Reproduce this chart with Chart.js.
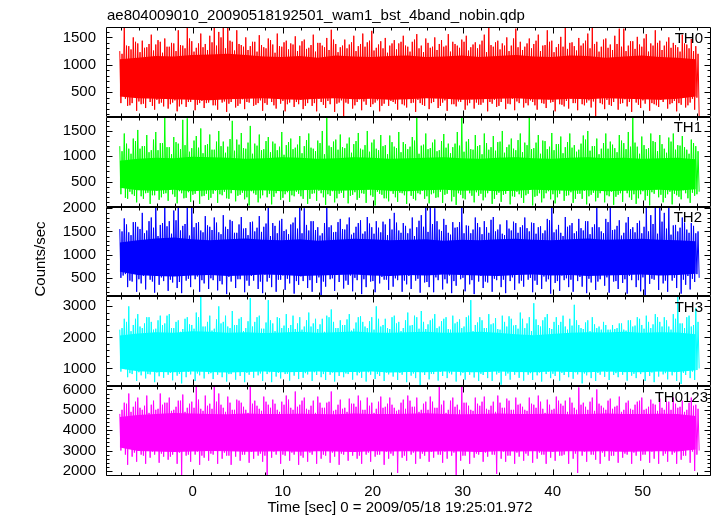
<!DOCTYPE html>
<html>
<head>
<meta charset="utf-8">
<script src="https://cdn.jsdelivr.net/npm/chart.js@4.4.1/dist/chart.umd.min.js"></script>
<style>
  html, body { margin: 0; padding: 0; background: #fff; }
  #plot { display: block; }
</style>
</head>
<body>
<canvas id="plot" width="717" height="516"></canvas>
<script>
// values, one entry per 0.5 s bin, first bin at t = -8.1 s
//   Hi / Lo   : highest peak and deepest dip in the bin
//   Hi2 / Lo2 : the second peak and dip in the same bin
const binStart = -8.1;
const binStep = 0.5;
// dense (solid looking) core of each band, read per 2 s
const coreStep = 2.0;

const chartTitle = 'ae804009010_20090518192501_wam1_bst_4band_nobin.qdp';
const xTitle = 'Time [sec] 0 = 2009/05/18 19:25:01.972';
const yTitle = 'Counts/sec';
const bandNames = ['TH0', 'TH1', 'TH2', 'TH3', 'TH0123'];
const bandColors = ['#ff0000', '#00ff00', '#0000ff', '#00ffff', '#ff00ff'];
const yMins = [50, 6, 100, 430, 1750];
const yMaxs = [1690, 1780, 2035, 3320, 6160];
const yMajor = [500, 500, 500, 1000, 1000];
const yMinor = [100, 100, 100, 200, 200];
const xMin = -9.63, xMax = 57.59;

const th0Hi = [
  1250, 1690, 1340, 1500, 1390, 1440, 1320, 1550, 1370, 1420, 1480, 1330, 1390, 1630, 1350, 1690, 1430, 1310, 1570, 1380,
  1530, 1690, 1600, 1690, 1690, 1420, 1630, 1360, 1500, 1340, 1420, 1540, 1320, 1480, 1370, 1570, 1330, 1440, 1390, 1520,
  1350, 1460, 1310, 1550, 1400, 1350, 1490, 1640, 1380, 1320, 1460, 1370, 1530, 1340, 1570, 1410, 1620, 1310, 1430, 1490,
  1350, 1450, 1390, 1530, 1330, 1420, 1560, 1350, 1480, 1310, 1500, 1380, 1330, 1560, 1420, 1350, 1460, 1530, 1320, 1410,
  1370, 1550, 1690, 1330, 1440, 1390, 1500, 1350, 1660, 1420, 1330, 1480, 1380, 1550, 1350, 1630, 1440, 1320, 1510, 1690,
  1400, 1340, 1490, 1390, 1570, 1690, 1420, 1330, 1480, 1370, 1530, 1660, 1660, 1350, 1430, 1510, 1330, 1560, 1390, 1630,
  1440, 1350, 1500, 1400, 1320, 1550, 1370, 1470, 1340
];
const th0Lo = [
  480, 250, 300, 160, 280, 210, 320, 180, 290, 240, 200, 310, 150, 280, 230, 320, 170, 300, 210, 310,
  260, 180, 310, 140, 320, 220, 290, 190, 310, 250, 300, 160, 270, 320, 200, 290, 150, 310, 230, 280,
  190, 300, 250, 150, 320, 210, 280, 140, 310, 60, 290, 200, 320, 170, 270, 230, 310, 150, 290, 250,
  320, 180, 280, 220, 300, 140, 300, 250, 190, 320, 210, 310, 160, 280, 240, 320, 180, 300, 200, 270,
  310, 150, 290, 230, 320, 190, 280, 170, 300, 220, 260, 320, 180, 300, 210, 310, 150, 280, 240, 200,
  300, 170, 280, 310, 220, 60, 300, 190, 270, 320, 180, 300, 240, 140, 310, 210, 290, 160, 280, 230,
  320, 200, 300, 150, 270, 220, 310, 180, 60
];
const th0Hi2 = [
  1200, 1350, 1280, 1420, 1230, 1310, 1380, 1260, 1450, 1220, 1330, 1400, 1250, 1360, 1300, 1480, 1240, 1390, 1320, 1270,
  1410, 1350, 1500, 1300, 1440, 1260, 1380, 1330, 1270, 1420, 1240, 1360, 1300, 1450, 1220, 1340, 1410, 1280, 1370, 1250,
  1430, 1290, 1360, 1240, 1400, 1320, 1270, 1460, 1230, 1350, 1300, 1410, 1250, 1380, 1330, 1440, 1260, 1370, 1300, 1220,
  1390, 1280, 1420, 1350, 1240, 1460, 1300, 1230, 1400, 1330, 1270, 1450, 1350, 1240, 1380, 1310, 1420, 1260, 1370, 1300,
  1440, 1230, 1360, 1410, 1280, 1350, 1250, 1480, 1320, 1270, 1390, 1300, 1440, 1250, 1360, 1420, 1230, 1380, 1330, 1290,
  1410, 1260, 1350, 1440, 1300, 1380, 1240, 1460, 1310, 1270, 1380, 1330, 1250, 1430, 1290, 1370, 1480, 1240, 1350, 1400,
  1270, 1420, 1310, 1360, 1240, 1390, 1300, 1250, 1200
];
const th0Lo2 = [
  300, 380, 260, 420, 330, 290, 400, 250, 360, 310, 420, 280, 350, 240, 390, 320, 430, 270, 340, 300,
  380, 260, 410, 330, 290, 440, 250, 370, 320, 400, 270, 350, 300, 430, 260, 390, 340, 280, 410, 320,
  360, 250, 420, 300, 380, 270, 340, 440, 290, 350, 310, 400, 260, 370, 330, 430, 280, 350, 250, 390,
  340, 290, 420, 260, 380, 310, 360, 270, 430, 300, 390, 250, 350, 410, 280, 330, 440, 260, 370, 310,
  270, 400, 320, 360, 250, 420, 290, 380, 330, 440, 300, 350, 260, 410, 290, 370, 320, 430, 270, 340,
  380, 300, 420, 260, 350, 330, 400, 280, 360, 250, 410, 290, 370, 320, 440, 270, 350, 390, 300, 260,
  360, 410, 280, 340, 300, 420, 260, 380, 400
];
const th0CoreHi = [1100, 1130, 1160, 1150, 1180, 1190, 1200, 1180, 1150, 1140, 1160, 1130, 1170, 1150, 1140, 1160, 1170, 1140, 1150, 1170, 1140, 1160, 1180, 1150, 1140, 1170, 1160, 1130, 1150, 1170, 1140, 1130, 1100];
const th0CoreLo = [420, 390, 380, 370, 360, 350, 370, 380, 390, 370, 360, 380, 390, 370, 380, 360, 370, 390, 380, 360, 370, 380, 390, 370, 360, 380, 370, 390, 380, 370, 360, 380, 420];

const th1Hi = [
  1200, 1450, 1150, 1350, 1520, 1200, 1420, 1120, 1480, 1260, 1780, 1180, 1380, 1250, 1720, 1750, 1160, 1400, 1550, 1220,
  1430, 1130, 1500, 1290, 1190, 1700, 1330, 1460, 1150, 1600, 1250, 1430, 1140, 1380, 1290, 1120, 1480, 1220, 1350, 1170,
  1400, 1200, 1450, 1150, 1310, 1500, 1780, 1180, 1330, 1430, 1160, 1370, 1240, 1460, 1130, 1500, 1270, 1150, 1420, 1220,
  1410, 1190, 1480, 1280, 1140, 1380, 1780, 1210, 1450, 1160, 1330, 1120, 1440, 1250, 1180, 1480, 1780, 1290, 1140, 1420,
  1220, 1450, 1130, 1400, 1280, 1500, 1180, 1350, 1120, 1450, 1270, 1780, 1160, 1420, 1310, 1140, 1460, 1240, 1390, 1180,
  1450, 1220, 1130, 1410, 1500, 1200, 1350, 1150, 1450, 1290, 1160, 1420, 1260, 1480, 1780, 1190, 1390, 1140, 1450, 1280,
  1420, 1150, 1370, 1450, 1220, 1400, 1130, 1330, 1200
];
const th1Lo = [
  400, 160, 250, 90, 210, 270, 60, 230, 140, 260, 120, 250, 70, 270, 180, 100, 260, 60, 220, 140,
  260, 80, 230, 170, 270, 110, 240, 150, 30, 270, 90, 230, 190, 50, 270, 140, 250, 100, 210, 260,
  160, 60, 260, 120, 270, 40, 220, 90, 260, 180, 70, 240, 140, 270, 80, 230, 30, 260, 170, 110,
  260, 100, 270, 60, 220, 130, 250, 160, 70, 270, 190, 80, 260, 110, 40, 240, 150, 270, 90, 220,
  130, 270, 60, 240, 100, 260, 50, 200, 250, 80, 260, 30, 220, 90, 270, 150, 70, 260, 120, 230,
  80, 260, 160, 50, 240, 110, 270, 90, 210, 40, 240, 100, 270, 140, 60, 250, 130, 30, 260, 190,
  90, 250, 50, 230, 150, 270, 80, 220, 300
];
const th1Hi2 = [
  1100, 1250, 1050, 1300, 1150, 1200, 1080, 1330, 1120, 1260, 1180, 1040, 1280, 1140, 1220, 1090, 1310, 1170, 1060, 1240,
  1130, 1290, 1200, 1070, 1340, 1110, 1230, 1160, 1270, 1050, 1210, 1120, 1300, 1080, 1250, 1190, 1030, 1280, 1140, 1230,
  1060, 1320, 1170, 1100, 1260, 1040, 1210, 1290, 1130, 1180, 1250, 1070, 1300, 1150, 1220, 1090, 1330, 1120, 1200, 1040,
  1280, 1160, 1080, 1240, 1190, 1310, 1050, 1230, 1140, 1270, 1100, 1300, 1170, 1060, 1250, 1210, 1090, 1340, 1130, 1200,
  1040, 1260, 1180, 1110, 1290, 1070, 1230, 1150, 1320, 1080, 1220, 1140, 1270, 1050, 1300, 1190, 1120, 1240, 1060, 1280,
  1170, 1090, 1250, 1330, 1110, 1200, 1040, 1260, 1150, 1230, 1080, 1310, 1140, 1190, 1270, 1050, 1220, 1160, 1300, 1100,
  1240, 1070, 1290, 1130, 1210, 1180, 1050, 1260, 1100
];
const th1Lo2 = [
  250, 180, 300, 220, 340, 160, 280, 230, 320, 190, 270, 350, 200, 310, 170, 290, 240, 330, 210, 260,
  180, 320, 250, 300, 160, 340, 220, 280, 190, 310, 240, 170, 330, 260, 200, 350, 180, 290, 230, 300,
  210, 340, 160, 270, 320, 190, 250, 310, 170, 280, 330, 220, 290, 180, 260, 350, 200, 300, 240, 170,
  310, 190, 280, 230, 340, 160, 270, 320, 210, 250, 180, 300, 240, 350, 200, 270, 170, 330, 220, 290,
  260, 190, 320, 160, 280, 240, 340, 210, 300, 180, 230, 350, 200, 270, 170, 310, 250, 190, 330, 220,
  290, 160, 260, 320, 210, 280, 180, 340, 230, 300, 200, 270, 330, 190, 250, 170, 310, 220, 290, 350,
  240, 180, 300, 260, 200, 330, 170, 280, 250
];
const th1CoreHi = [910, 950, 970, 960, 990, 980, 970, 950, 960, 980, 970, 950, 960, 980, 970, 950, 960, 970, 980, 960, 950, 970, 980, 960, 950, 970, 980, 960, 970, 950, 960, 970, 940];
const th1CoreLo = [380, 330, 320, 340, 310, 330, 340, 320, 330, 310, 330, 340, 320, 330, 340, 320, 310, 330, 340, 320, 330, 310, 320, 340, 330, 320, 330, 310, 320, 330, 340, 320, 350];

const th2Hi = [
  1550, 1780, 1480, 1700, 1600, 1900, 1520, 1800, 2035, 1640, 2035, 1720, 1950, 2035, 1620, 2035, 2035, 1680, 1520, 1830,
  1600, 1800, 1480, 1850, 1550, 1720, 1470, 1810, 1570, 1700, 1500, 1830, 1600, 2035, 1680, 1460, 1770, 1540, 1650, 1800,
  2035, 2000, 1520, 1720, 1590, 1460, 2035, 1630, 1490, 1770, 1540, 1800, 1470, 1680, 1450, 1810, 1590, 1720, 1480, 1650,
  1770, 1900, 1520, 1680, 1460, 1800, 1590, 1850, 2035, 2035, 2000, 1540, 1770, 1470, 1700, 1590, 2035, 1630, 1460, 1800,
  1590, 1720, 1470, 1810, 1540, 1450, 1740, 1520, 1680, 1590, 1800, 1500, 1680, 1590, 1460, 1770, 2035, 1540, 1470, 1810,
  1630, 1460, 1770, 1520, 1720, 1590, 2035, 1500, 1770, 2035, 1540, 1740, 1470, 1810, 1590, 1680, 1460, 2035, 1850, 2035,
  2035, 1900, 2035, 1630, 1500, 1800, 1540, 1680, 1460
];
const th2Lo = [
  550, 300, 420, 200, 380, 250, 460, 180, 350, 430, 220, 400, 280, 170, 440, 300, 470, 200, 380, 260,
  450, 230, 360, 150, 420, 280, 470, 190, 330, 440, 260, 170, 420, 300, 200, 460, 240, 380, 160, 350,
  430, 280, 200, 390, 130, 310, 470, 220, 410, 270, 350, 210, 450, 150, 300, 420, 190, 380, 460, 240,
  310, 450, 200, 360, 260, 440, 180, 400, 300, 190, 450, 250, 380, 170, 330, 470, 210, 360, 150, 420,
  280, 400, 200, 450, 300, 170, 430, 240, 380, 310, 460, 190, 350, 260, 420, 160, 390, 220, 450, 300,
  200, 430, 310, 170, 400, 240, 470, 330, 180, 420, 260, 390, 160, 450, 300, 210, 130, 370, 460, 240,
  380, 200, 440, 280, 160, 350, 250, 410, 500
];
const th2Hi2 = [
  1500, 1650, 1420, 1700, 1550, 1460, 1720, 1580, 1400, 1680, 1610, 1450, 1740, 1520, 1660, 1410, 1590, 1700, 1480, 1630,
  1530, 1690, 1440, 1600, 1750, 1470, 1650, 1560, 1420, 1710, 1580, 1490, 1670, 1400, 1620, 1730, 1510, 1440, 1690, 1560,
  1460, 1640, 1720, 1530, 1410, 1680, 1590, 1480, 1700, 1550, 1650, 1430, 1600, 1740, 1500, 1670, 1450, 1580, 1710, 1420,
  1540, 1690, 1470, 1620, 1560, 1400, 1730, 1600, 1490, 1660, 1720, 1510, 1640, 1430, 1580, 1700, 1460, 1620, 1540, 1680,
  1440, 1590, 1750, 1500, 1650, 1420, 1560, 1710, 1470, 1630, 1570, 1690, 1450, 1610, 1520, 1740, 1480, 1640, 1400, 1600,
  1680, 1500, 1570, 1720, 1440, 1650, 1590, 1460, 1700, 1530, 1620, 1410, 1690, 1550, 1480, 1730, 1600, 1500, 1660, 1450,
  1710, 1560, 1430, 1640, 1580, 1690, 1470, 1620, 1500
];
const th2Lo2 = [
  500, 580, 440, 620, 470, 540, 600, 420, 560, 510, 630, 460, 550, 410, 590, 480, 640, 530, 450, 570,
  490, 610, 430, 560, 520, 650, 470, 590, 440, 540, 600, 420, 570, 500, 630, 460, 550, 480, 610, 430,
  530, 590, 450, 640, 510, 420, 580, 490, 560, 620, 440, 550, 500, 610, 470, 580, 430, 640, 520, 460,
  570, 490, 620, 440, 540, 600, 480, 560, 410, 590, 510, 630, 470, 550, 430, 600, 500, 570, 450, 620,
  540, 420, 590, 480, 650, 460, 560, 510, 600, 440, 620, 500, 440, 580, 530, 470, 610, 430, 550, 490,
  460, 590, 520, 640, 480, 560, 420, 600, 510, 570, 430, 620, 470, 540, 590, 450, 510, 640, 480, 560,
  600, 440, 570, 500, 620, 460, 540, 480, 580
];
const th2CoreHi = [1260, 1310, 1350, 1370, 1330, 1310, 1330, 1350, 1320, 1310, 1330, 1300, 1320, 1340, 1330, 1310, 1320, 1330, 1300, 1320, 1310, 1330, 1340, 1320, 1310, 1330, 1350, 1320, 1330, 1340, 1320, 1310, 1290];
const th2CoreLo = [630, 560, 540, 530, 550, 560, 540, 550, 570, 560, 540, 550, 560, 570, 550, 540, 560, 550, 570, 560, 550, 540, 560, 570, 550, 560, 540, 550, 560, 570, 550, 560, 590];

const th3Hi = [
  2250, 2600, 3000, 2400, 2750, 2300, 2650, 2500, 2280, 2700, 2450, 2750, 2300, 2550, 2270, 2650, 2400, 2800, 3320, 2350,
  2700, 2280, 3000, 2500, 2350, 2850, 2400, 2650, 2300, 3270, 2500, 2700, 2280, 3200, 2450, 2650, 2300, 2750, 2400, 2270,
  2650, 2350, 2800, 2450, 2270, 2600, 2700, 2900, 2300, 2550, 2400, 2750, 2280, 2650, 2500, 2300, 2650, 3000, 2350, 2600,
  2270, 2700, 2500, 2300, 2800, 2400, 2650, 2850, 2270, 2550, 2750, 2350, 2600, 2270, 2700, 2500, 2300, 2650, 3200, 2400,
  2650, 2300, 2750, 2450, 2270, 2700, 2350, 2600, 2400, 2800, 2300, 2650, 3100, 2400, 2550, 2750, 2270, 2650, 2500, 2350,
  2600, 3050, 2400, 2270, 2550, 2650, 2300, 2250, 2400, 2250, 2270, 2450, 2250, 2550, 2350, 2650, 2400, 2700, 2300, 2750,
  2500, 2650, 2350, 2750, 3320, 2450, 2650, 2350, 2950
];
const th3Lo = [
  1250, 720, 820, 600, 780, 680, 810, 560, 750, 700, 800, 620, 770, 520, 720, 810, 600, 780, 680, 820,
  660, 800, 720, 580, 820, 640, 760, 560, 800, 700, 780, 600, 820, 560, 740, 680, 820, 610, 770, 660,
  700, 810, 600, 790, 720, 630, 800, 580, 760, 720, 820, 640, 780, 700, 580, 800, 660, 760, 600, 810,
  740, 630, 800, 560, 770, 690, 460, 790, 650, 820, 610, 760, 690, 810, 580, 780, 640, 800, 710, 600,
  790, 690, 600, 810, 480, 770, 640, 800, 700, 610, 800, 630, 780, 580, 820, 690, 760, 610, 790, 720,
  670, 810, 520, 780, 690, 600, 800, 730, 630, 790, 720, 800, 610, 770, 690, 820, 600, 760, 560, 740,
  810, 650, 780, 600, 500, 790, 690, 630, 1000
];
const th3Hi2 = [
  2300, 2500, 2200, 2600, 2350, 2450, 2650, 2250, 2550, 2400, 2700, 2300, 2500, 2180, 2600, 2420, 2280, 2650, 2350, 2500,
  2220, 2580, 2450, 2700, 2300, 2400, 2600, 2200, 2520, 2350, 2650, 2280, 2480, 2550, 2200, 2620, 2380, 2300, 2700, 2450,
  2250, 2550, 2350, 2600, 2420, 2180, 2650, 2500, 2300, 2400, 2580, 2220, 2480, 2680, 2350, 2520, 2250, 2600, 2400, 2300,
  2650, 2450, 2200, 2550, 2380, 2700, 2280, 2500, 2420, 2600, 2300, 2520, 2650, 2250, 2450, 2580, 2350, 2700, 2200, 2480,
  2550, 2300, 2420, 2620, 2250, 2500, 2680, 2380, 2280, 2600, 2450, 2200, 2580, 2350, 2650, 2300, 2500, 2400, 2700, 2250,
  2380, 2550, 2300, 2480, 2200, 2420, 2350, 2500, 2250, 2400, 2300, 2450, 2220, 2550, 2380, 2600, 2280, 2500, 2420, 2650,
  2350, 2550, 2250, 2600, 2450, 2300, 2700, 2400, 2500
];
const th3Lo2 = [
  900, 980, 850, 1020, 880, 950, 820, 1000, 870, 940, 1040, 860, 970, 830, 1010, 890, 950, 840, 990, 910,
  850, 1030, 880, 960, 820, 1000, 900, 940, 860, 1050, 920, 840, 990, 880, 1020, 860, 950, 830, 1000, 900,
  970, 850, 1040, 880, 930, 820, 1010, 870, 960, 900, 840, 990, 910, 860, 1030, 880, 950, 820, 1000, 870,
  940, 1020, 860, 980, 900, 840, 1050, 880, 950, 830, 1010, 890, 960, 850, 1000, 920, 860, 1040, 880, 940,
  830, 990, 900, 1020, 860, 950, 840, 1010, 880, 970, 920, 850, 1000, 870, 1040, 900, 830, 980, 860, 950,
  1020, 880, 940, 840, 990, 910, 860, 1030, 890, 950, 850, 1000, 880, 960, 830, 1020, 900, 940, 870, 990,
  910, 850, 1000, 880, 940, 860, 1020, 900, 950
];
const th3CoreHi = [2060, 2130, 2170, 2150, 2200, 2180, 2150, 2170, 2140, 2160, 2180, 2150, 2170, 2190, 2160, 2150, 2170, 2180, 2150, 2160, 2180, 2150, 2100, 2070, 2110, 2150, 2170, 2160, 2180, 2150, 2170, 2160, 2100];
const th3CoreLo = [1000, 910, 890, 880, 900, 890, 870, 890, 900, 880, 890, 900, 880, 890, 900, 870, 890, 880, 900, 890, 880, 900, 890, 880, 900, 890, 880, 900, 890, 880, 900, 890, 940];

const th0123Hi = [
  4800, 5350, 5800, 5150, 5600, 5000, 5700, 5250, 5000, 5800, 5350, 5600, 5000, 5450, 5750, 5100, 5400, 6160, 5050, 5700,
  5300, 6160, 5800, 5100, 5650, 5000, 5500, 5350, 5000, 6160, 5450, 5050, 5650, 5250, 5500, 5000, 5400, 5700, 5100, 5900,
  5250, 5600, 5000, 5450, 5650, 5100, 5350, 5900, 5000, 5500, 5100, 5550, 5300, 5700, 5000, 5600, 5350, 5050, 5650, 5150,
  5600, 5100, 5000, 5500, 5700, 5150, 5600, 5000, 5400, 5650, 5100, 6160, 5450, 5000, 5600, 5250, 6160, 5350, 5000, 5600,
  5200, 5650, 5000, 5400, 5700, 5100, 5550, 5000, 5600, 5300, 5000, 5600, 5250, 5700, 5050, 5500, 5000, 5650, 5300, 5450,
  5600, 5100, 6100, 5350, 5000, 5600, 6000, 5200, 5000, 5550, 5150, 5650, 5000, 5450, 5000, 5400, 5600, 5050, 5500, 5250,
  5550, 5000, 5400, 5600, 5100, 5450, 5000, 5600, 5250
];
const th0123Lo = [
  3300, 2300, 2700, 2450, 2800, 2350, 2650, 2800, 2400, 2700, 2550, 2800, 2350, 1800, 2750, 2450, 2800, 2300, 2650, 2500,
  2800, 2350, 2600, 2750, 2300, 2700, 2500, 2800, 2400, 2600, 2750, 2450, 1800, 2650, 2800, 2350, 2750, 2500, 2800, 2300,
  2650, 2450, 2800, 2350, 2600, 2750, 2400, 2700, 2300, 2800, 2500, 2750, 2600, 2350, 2800, 2450, 2700, 2800, 2300, 2600,
  2750, 1900, 2650, 2500, 2800, 2350, 2600, 2750, 2450, 2650, 2800, 2400, 2600, 2750, 1800, 2500, 2750, 2350, 2650, 2800,
  2450, 2700, 2800, 1850, 2600, 2450, 2750, 2350, 2700, 2500, 2750, 2400, 2600, 2800, 2350, 2650, 2500, 2750, 2800, 2350,
  2600, 1900, 2750, 2450, 2800, 2550, 2350, 2700, 2500, 2750, 2400, 2650, 2800, 2350, 2750, 2500, 2800, 2400, 2600, 2350,
  2750, 2450, 2800, 2350, 2550, 2750, 2400, 2000, 3000
];
const th0123Hi2 = [
  5000, 5300, 4900, 5400, 5100, 5200, 4850, 5450, 5050, 5250, 5350, 4950, 5150, 5450, 4900, 5300, 5100, 5500, 4950, 5200,
  5050, 5400, 5250, 4900, 5350, 5000, 5450, 5150, 4850, 5300, 5200, 4950, 5400, 5100, 5300, 4900, 5250, 5500, 5000, 5150,
  5450, 5050, 5200, 4850, 5350, 5100, 5400, 4950, 5250, 5050, 4900, 5300, 5150, 5450, 5000, 5200, 4850, 5400, 5100, 5300,
  5250, 4950, 5350, 5050, 5450, 5150, 4900, 5300, 5000, 5400, 5100, 5250, 4850, 5450, 5150, 5000, 5350, 5200, 4950, 5300,
  5400, 5050, 5200, 4900, 5350, 5100, 5450, 5000, 5250, 5150, 4950, 5300, 5100, 5400, 4850, 5250, 5050, 5450, 5200, 4900,
  5350, 5000, 5250, 5150, 5400, 4950, 5300, 5100, 5450, 5050, 5200, 4900, 5350, 5050, 5250, 5450, 5000, 5150, 5300, 4950,
  5100, 5400, 5000, 5300, 5150, 4900, 5350, 5200, 5050
];
const th0123Lo2 = [
  3000, 2800, 3200, 2900, 3100, 2750, 3250, 2950, 3050, 2850, 3150, 2700, 3000, 2900, 3300, 2800, 3100, 2950, 2750, 3200,
  2850, 3050, 3250, 2900, 2750, 3150, 3000, 2800, 3300, 2950, 3100, 2850, 2750, 3200, 2950, 3050, 2800, 3250, 2900, 3000,
  2750, 3150, 2900, 3050, 3300, 2800, 3000, 2900, 3200, 2850, 3050, 2950, 3250, 2750, 3100, 2900, 3000, 2800, 3150, 2950,
  2850, 3200, 3000, 2750, 3100, 2900, 3300, 2850, 3050, 2950, 3150, 2800, 2950, 3200, 2900, 3050, 2750, 3100, 3000, 2850,
  3250, 2900, 3050, 2800, 3150, 2950, 2750, 3200, 2900, 3100, 2850, 3000, 3250, 2900, 2800, 3150, 2950, 3050, 2750, 3200,
  3000, 2850, 3100, 2950, 3300, 2800, 3050, 2900, 3150, 2750, 2950, 3200, 2850, 3100, 2900, 3050, 2800, 3250, 2950, 3000,
  3100, 2850, 3200, 2900, 3000, 2750, 3150, 2950, 2800
];
const th0123CoreHi = [4650, 4750, 4800, 4850, 4820, 4800, 4780, 4820, 4800, 4790, 4810, 4800, 4780, 4820, 4800, 4790, 4810, 4830, 4800, 4780, 4800, 4820, 4790, 4800, 4810, 4780, 4800, 4820, 4790, 4800, 4810, 4790, 4700];
const th0123CoreLo = [3150, 2980, 2950, 2930, 2950, 2980, 2960, 2940, 2950, 2970, 2940, 2960, 2950, 2930, 2960, 2950, 2970, 2940, 2960, 2950, 2930, 2960, 2950, 2970, 2940, 2960, 2950, 2970, 2940, 2950, 2960, 2950, 3050];

const hiSeries = [th0Hi, th1Hi, th2Hi, th3Hi, th0123Hi];
const loSeries = [th0Lo, th1Lo, th2Lo, th3Lo, th0123Lo];
const hi2Series = [th0Hi2, th1Hi2, th2Hi2, th3Hi2, th0123Hi2];
const lo2Series = [th0Lo2, th1Lo2, th2Lo2, th3Lo2, th0123Lo2];
const coreHiSeries = [th0CoreHi, th1CoreHi, th2CoreHi, th3CoreHi, th0123CoreHi];
const coreLoSeries = [th0CoreLo, th1CoreLo, th2CoreLo, th3CoreLo, th0123CoreLo];

const labelRight = [703, 702, 702, 703, 708];
const font = '"Liberation Sans", Arial, Helvetica, sans-serif';

let datasets = [];
let scales = {
  x: {
    type: 'linear', position: 'bottom', min: xMin, max: xMax,
    grid: { display: false, drawTicks: false }, border: { display: false },
    ticks: { stepSize: 10, includeBounds: false, autoSkip: false, maxRotation: 0,
             color: '#000', padding: 7, font: { family: font, size: 15 },
             callback: (v) => String(v) },
    afterFit: (s) => { s.height = 40; }
  }
};

bandNames.forEach((name, b) => {
  const id = 'y' + b;
  scales[id] = {
    type: 'linear', position: 'left', stack: 'bands', stackWeight: 1, weight: 5 - b,
    min: yMins[b], max: yMaxs[b],
    grid: { display: false, drawTicks: false }, border: { display: false },
    ticks: { autoSkip: false, color: '#000', padding: 10, font: { family: font, size: 15 },
             callback: (v) => String(v) },
    afterBuildTicks: (s) => {
      let t = [];
      for (let v = Math.ceil(yMins[b] / yMajor[b]) * yMajor[b]; v <= yMaxs[b]; v += yMajor[b]) t.push({ value: v });
      s.ticks = t;
    },
    afterFit: (s) => { s.width = 106; }
  };

  // zigzag through each bin: peak, second dip, second peak, dip
  let pts = [];
  hiSeries[b].forEach((v, i) => {
    const t = binStart + i * binStep;
    pts.push({ x: t, y: v });
    pts.push({ x: t + binStep * 0.25, y: lo2Series[b][i] });
    pts.push({ x: t + binStep * 0.5, y: hi2Series[b][i] });
    pts.push({ x: t + binStep * 0.75, y: loSeries[b][i] });
  });
  const coreT = coreHiSeries[b].map((v, i) => binStart + i * coreStep);

  datasets.push({
    label: name + ' core', yAxisID: id,
    data: coreHiSeries[b].map((v, i) => ({ x: coreT[i], y: v })),
    borderWidth: 0, pointRadius: 0, fill: '+1', backgroundColor: bandColors[b]
  });
  datasets.push({
    label: name + ' core low', yAxisID: id,
    data: coreLoSeries[b].map((v, i) => ({ x: coreT[i], y: v })),
    borderWidth: 0, pointRadius: 0, fill: false
  });
  datasets.push({
    label: name, yAxisID: id, data: pts,
    borderColor: bandColors[b], borderWidth: 1, borderJoinStyle: 'bevel',
    pointRadius: 0, fill: false, tension: 0
  });
});

const framePlugin = {
  id: 'qdpFrame',
  afterDatasetsDraw(chart) {
    const ctx = chart.ctx;
    const xs = chart.scales.x;
    ctx.save();
    ctx.strokeStyle = '#000';
    ctx.lineWidth = 1;
    ctx.beginPath();
    bandNames.forEach((name, b) => {
      const ys = chart.scales['y' + b];
      const L = Math.round(xs.left) + 0.5, R = Math.round(xs.right) - 0.5;
      const T = Math.round(ys.top) + 0.5, B = Math.round(ys.bottom) - 0.5;
      ctx.rect(L, T, R - L, B - T);
      for (let v = Math.ceil(yMins[b] / yMinor[b]) * yMinor[b]; v <= yMaxs[b]; v += yMinor[b]) {
        const y = Math.round(ys.getPixelForValue(v)) + 0.5;
        const len = v % yMajor[b] === 0 ? 6 : 3;
        ctx.moveTo(L, y); ctx.lineTo(L + len, y);
        ctx.moveTo(R, y); ctx.lineTo(R - len, y);
      }
      for (let t = Math.ceil(xMin / 2) * 2; t <= xMax; t += 2) {
        const x = Math.round(xs.getPixelForValue(t)) + 0.5;
        const len = t % 10 === 0 ? 6 : 3;
        ctx.moveTo(x, T); ctx.lineTo(x, T + len);
        ctx.moveTo(x, B); ctx.lineTo(x, B - len);
      }
    });
    ctx.stroke();

    ctx.fillStyle = '#000';
    ctx.font = '15px ' + font;
    ctx.textBaseline = 'alphabetic';
    ctx.textAlign = 'left';
    ctx.fillText(chartTitle, 107, 20);
    ctx.textAlign = 'center';
    ctx.fillText(xTitle, 400, 512);
    ctx.textAlign = 'right';
    bandNames.forEach((name, b) => {
      const ys = chart.scales['y' + b];
      ctx.fillText(name, labelRight[b], ys.top + 15.5);
    });
    ctx.translate(45, 259);
    ctx.rotate(-Math.PI / 2);
    ctx.textAlign = 'center';
    ctx.fillText(yTitle, 0, 0);
    ctx.restore();
  }
};

new Chart(document.getElementById('plot').getContext('2d'), {
  type: 'line',
  data: { datasets: datasets },
  options: {
    responsive: false,
    animation: false,
    devicePixelRatio: 1,
    layout: { padding: { top: 27, right: 6, bottom: 0, left: 0 } },
    plugins: { legend: { display: false }, title: { display: false }, tooltip: { enabled: false } },
    scales: scales
  },
  plugins: [framePlugin]
});
</script>
</body>
</html>
